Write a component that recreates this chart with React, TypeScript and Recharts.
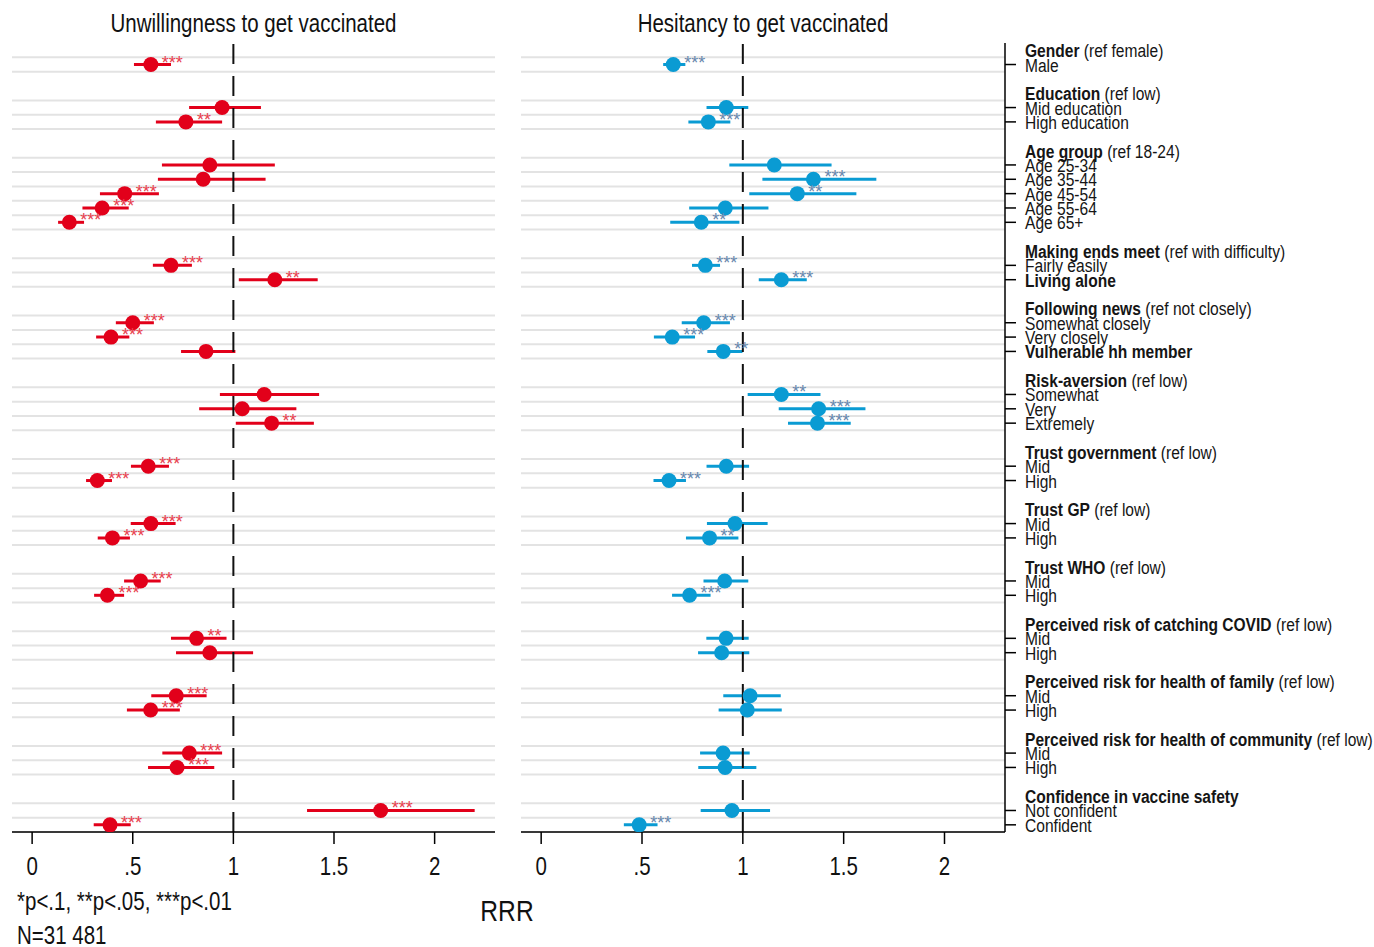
import React from "react";
import { ScatterChart, Scatter, XAxis, YAxis, ReferenceLine } from "recharts";

// ---------- categories ----------
const groupTitles = [
  "Gender",
  "Education",
  "Age group",
  "Making ends meet",
  "Following news",
  "Risk-aversion",
  "Trust government",
  "Trust GP",
  "Trust WHO",
  "Perceived risk of catching COVID",
  "Perceived risk for health of family",
  "Perceived risk for health of community",
  "Confidence in vaccine safety",
];
const groupRefs = [
  "(ref female)",
  "(ref low)",
  "(ref 18-24)",
  "(ref with difficulty)",
  "(ref not closely)",
  "(ref low)",
  "(ref low)",
  "(ref low)",
  "(ref low)",
  "(ref low)",
  "(ref low)",
  "(ref low)",
  "",
];
const groupItems: string[][] = [
  ["Male"],
  ["Mid education", "High education"],
  ["Age 25-34", "Age 35-44", "Age 45-54", "Age 55-64", "Age 65+"],
  ["Fairly easily", "Living alone"],
  ["Somewhat closely", "Very closely", "Vulnerable hh member"],
  ["Somewhat", "Very", "Extremely"],
  ["Mid", "High"],
  ["Mid", "High"],
  ["Mid", "High"],
  ["Mid", "High"],
  ["Mid", "High"],
  ["Mid", "High"],
  ["Not confident", "Confident"],
];
const boldItems = ["Living alone", "Vulnerable hh member"];

// ---------- series: Unwillingness ----------
const unwillRRR = [0.59, 0.944, 0.764, 0.883, 0.85, 0.46, 0.348, 0.185, 0.69, 1.206, 0.5, 0.392, 0.864, 1.153, 1.044, 1.19, 0.577, 0.324, 0.59, 0.399, 0.539, 0.374, 0.817, 0.883, 0.716, 0.589, 0.781, 0.72, 1.732, 0.387];
const unwillLow = [0.506, 0.78, 0.615, 0.645, 0.625, 0.337, 0.25, 0.129, 0.6, 1.027, 0.416, 0.318, 0.74, 0.933, 0.83, 1.012, 0.491, 0.268, 0.49, 0.326, 0.457, 0.308, 0.69, 0.715, 0.592, 0.471, 0.647, 0.576, 1.366, 0.306];
const unwillHigh = [0.69, 1.137, 0.944, 1.206, 1.16, 0.63, 0.48, 0.258, 0.794, 1.419, 0.605, 0.483, 1.01, 1.426, 1.313, 1.4, 0.68, 0.397, 0.713, 0.486, 0.639, 0.457, 0.966, 1.098, 0.867, 0.734, 0.944, 0.905, 2.199, 0.49];
const unwillStars = ["***", "", "**", "", "", "***", "***", "***", "***", "**", "***", "***", "", "", "", "**", "***", "***", "***", "***", "***", "***", "**", "", "***", "***", "***", "***", "***", "***"];

// ---------- series: Hesitancy ----------
const hesitRRR = [0.655, 0.918, 0.829, 1.156, 1.35, 1.27, 0.913, 0.794, 0.814, 1.191, 0.806, 0.65, 0.903, 1.191, 1.376, 1.37, 0.918, 0.634, 0.961, 0.835, 0.91, 0.736, 0.917, 0.895, 1.036, 1.022, 0.902, 0.912, 0.946, 0.486];
const hesitLow = [0.605, 0.82, 0.73, 0.933, 1.097, 1.032, 0.734, 0.64, 0.748, 1.079, 0.697, 0.559, 0.824, 1.024, 1.178, 1.224, 0.82, 0.557, 0.822, 0.718, 0.805, 0.649, 0.819, 0.778, 0.903, 0.88, 0.788, 0.779, 0.791, 0.41];
const hesitHigh = [0.715, 1.027, 0.938, 1.44, 1.662, 1.563, 1.127, 0.983, 0.887, 1.317, 0.936, 0.763, 0.998, 1.385, 1.608, 1.535, 1.031, 0.718, 1.123, 0.978, 1.027, 0.84, 1.029, 1.032, 1.188, 1.193, 1.034, 1.067, 1.135, 0.577];
const hesitStars = ["***", "", "***", "", "***", "**", "", "**", "***", "***", "***", "***", "**", "**", "***", "***", "", "***", "", "**", "", "***", "", "", "", "", "", "", "", "***"];

// ---------- axis ticks ----------
const xTicks = [0, 0.5, 1, 1.5, 2];
const xTickLabels = ["0", ".5", "1", "1.5", "2"];
const xDomain: [number, number] = [-0.1, 2.3];

const titles = ["Unwillingness to get vaccinated", "Hesitancy to get vaccinated"];
const footnote = "*p<.1, **p<.05, ***p<.01";
const nNote = "N=31 481";
const xLabel = "RRR";

// ---------- row layout derived from categories ----------
type RowLabel = { row: number; kind: "header" | "item"; text: string; ref?: string; bold?: boolean };
const rowLabels: RowLabel[] = [];
const itemRows: number[] = [];
const gridRows: number[] = [];
let rr = 0;
groupTitles.forEach((t, gi) => {
  rowLabels.push({ row: rr, kind: "header", text: t, ref: groupRefs[gi] });
  gridRows.push(rr + 0.5);
  rr++;
  groupItems[gi].forEach((it) => {
    rowLabels.push({ row: rr, kind: "item", text: it, bold: boldItems.includes(it) });
    itemRows.push(rr);
    gridRows.push(rr + 0.5);
    rr++;
  });
  rr++;
});
const yDomain: [number, number] = [-0.5, rr - 1.5];

const FONT = "'Liberation Sans', Arial, Helvetica, sans-serif";
const NARROW = 0.82;
const CH = 947;
const AXIS_H = 60;
const R_W = 864;
const R_YW = 369;
const R_MARGIN = { top: 43, right: 0, bottom: 55, left: 11 };
const L_MARGIN = { top: 43, right: 5, bottom: 55, left: 12 };

function NText(props: any) {
  const { x, y, size, anchor = "start", weight = "normal", fill = "#111", children } = props;
  return (
    <g transform={`translate(${x},${y}) scale(${NARROW},1)`}>
      <text x={0} y={0} fontSize={size} fontFamily={FONT} textAnchor={anchor} fontWeight={weight} fill={fill}>
        {children}
      </text>
    </g>
  );
}

function XTick(props: any) {
  const { x, y, payload } = props;
  const idx = xTicks.indexOf(payload.value);
  const label = idx >= 0 ? xTickLabels[idx] : String(payload.value);
  return (
    <NText x={x} y={y + 29} size={25} anchor="middle" fill="#111">
      {label}
    </NText>
  );
}

function YTick(props: any) {
  const { y, payload } = props;
  const axisX = R_W - R_MARGIN.right - R_YW; // axis line x inside chart
  const lab = rowLabels.find((l) => l.row === payload.value);
  if (!lab) return null;
  const tx = axisX + 20;
  return (
    <g>
      {lab.kind === "item" && <line x1={axisX} x2={axisX + 11} y1={y} y2={y} stroke="#000" strokeWidth={1.5} />}
      <g transform={`translate(${tx},${y + 7}) scale(${NARROW},1)`}>
        <text x={0} y={0} fontSize={19} fontFamily={FONT} fill="#151515">
          {lab.kind === "header" ? (
            <>
              <tspan fontWeight="bold">{lab.text}</tspan>
              {lab.ref ? <tspan> {lab.ref}</tspan> : null}
            </>
          ) : (
            <tspan fontWeight={lab.bold ? "bold" : "normal"}>{lab.text}</tspan>
          )}
        </text>
      </g>
    </g>
  );
}

function makeShape(color: string, starColor: string) {
  return (props: any) => {
    const { cx, cy } = props;
    const stars = props.payload?.stars ?? props.stars ?? "";
    return (
      <g>
        <circle cx={cx} cy={cy} r={7.5} fill={color} />
        {stars ? (
          <text x={cx + 11} y={cy + 4} fontSize={18} fontFamily={FONT} fill={starColor}>
            {stars}
          </text>
        ) : null}
      </g>
    );
  };
}

function Panel(props: any) {
  const { rrr, lo, hi, stars, color, starColor, width, margin, right } = props;
  const data = rrr.map((v: number, i: number) => ({ x: v, y: itemRows[i], lo: lo[i], hi: hi[i], stars: stars[i] }));
  return (
    <ScatterChart width={width} height={CH} margin={margin}>
      <XAxis
        type="number"
        dataKey="x"
        domain={xDomain}
        ticks={xTicks}
        interval={0}
        allowDataOverflow
        height={AXIS_H}
        tickSize={12}
        tickMargin={2}
        axisLine={{ stroke: "#000", strokeWidth: 1.5 }}
        tickLine={{ stroke: "#000", strokeWidth: 1.5 }}
        tick={<XTick />}
      />
      {right ? (
        <YAxis
          type="number"
          dataKey="y"
          orientation="right"
          domain={yDomain}
          reversed
          allowDataOverflow
          width={R_YW}
          ticks={rowLabels.map((l) => l.row)}
          interval={0}
          tickLine={false}
          axisLine={{ stroke: "#000", strokeWidth: 1.5 }}
          tick={<YTick />}
        />
      ) : (
        <YAxis type="number" dataKey="y" domain={yDomain} reversed allowDataOverflow hide />
      )}
      {gridRows.map((g) => (
        <ReferenceLine key={"g" + g} y={g} stroke="#e3e3e3" strokeWidth={2} />
      ))}
      {data.map((d: any, i: number) => (
        <ReferenceLine
          key={"ci" + i}
          segment={[
            { x: d.lo, y: d.y },
            { x: d.hi, y: d.y },
          ]}
          stroke={color}
          strokeWidth={3}
        />
      ))}
      <ReferenceLine x={1} stroke="#111" strokeWidth={2} strokeDasharray="20 12" />
      <Scatter data={data} fill={color} isAnimationActive={false} shape={makeShape(color, starColor)} />
    </ScatterChart>
  );
}

export default function App() {
  return (
    <div style={{ position: "absolute", left: 0, top: 0, width: 1374, height: 947, background: "#fff", overflow: "hidden" }}>
      <div style={{ position: "absolute", left: 0, top: 0 }}>
        <Panel
          rrr={unwillRRR}
          lo={unwillLow}
          hi={unwillHigh}
          stars={unwillStars}
          color="#e2001a"
          starColor="#e8404e"
          width={500}
          margin={L_MARGIN}
          right={false}
        />
      </div>
      <div style={{ position: "absolute", left: 510, top: 0 }}>
        <Panel
          rrr={hesitRRR}
          lo={hesitLow}
          hi={hesitHigh}
          stars={hesitStars}
          color="#0a9bd3"
          starColor="#6787ad"
          width={R_W}
          margin={R_MARGIN}
          right={true}
        />
      </div>
      <svg width={1374} height={947} style={{ position: "absolute", left: 0, top: 0, pointerEvents: "none" }}>
        <NText x={253.5} y={32} size={25} anchor="middle" fill="#111">
          {titles[0]}
        </NText>
        <NText x={763} y={32} size={25} anchor="middle" fill="#111">
          {titles[1]}
        </NText>
        <NText x={17} y={910} size={25} fill="#111">
          {footnote}
        </NText>
        <NText x={17} y={944} size={25} fill="#111">
          {nNote}
        </NText>
        <NText x={507} y={921} size={30} anchor="middle" fill="#111">
          {xLabel}
        </NText>
      </svg>
    </div>
  );
}
